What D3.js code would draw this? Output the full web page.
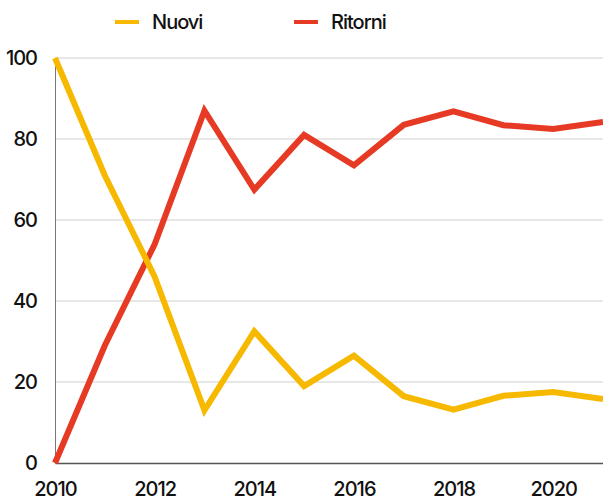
<!DOCTYPE html>
<html>
<head>
<meta charset="utf-8">
<script src="https://cdn.jsdelivr.net/npm/d3@7"></script>
<style>
  body { margin: 0; background: #fff; }
  svg text { font-family: Inter, "Liberation Sans", sans-serif; fill: #111; font-weight: 500; }
</style>
</head>
<body>
<div id="chart"></div>
<script>
const years = [2010, 2011, 2012, 2013, 2014, 2015, 2016, 2017, 2018, 2019, 2020, 2021];
const nuovi = [100, 71, 46, 13, 32.5, 19, 26.5, 16.5, 13.2, 16.6, 17.5, 15.8];
const ritorni = [0, 29, 54, 87, 67.5, 81, 73.5, 83.5, 86.8, 83.4, 82.5, 84.2];
const yTicks = [0, 20, 40, 60, 80, 100];
const xTicks = [2010, 2012, 2014, 2016, 2018, 2020];

const series = [
    { name: 'Ritorni', values: ritorni, color: '#e63a24' },
    { name: 'Nuovi', values: nuovi, color: '#f6b900' }
];

const width = 603, height = 503;
const margin = { top: 58, right: 0, bottom: 40, left: 55 };

const svg = d3.select('#chart').append('svg')
    .attr('width', width)
    .attr('height', height);

const x = d3.scaleLinear()
    .domain([2010, 2021])
    .range([margin.left, width - margin.right]);

const y = d3.scaleLinear()
    .domain([0, 100])
    .range([463, margin.top]);

// gridlines
svg.append('g')
    .selectAll('line')
    .data(yTicks.filter(d => d > 0))
    .join('line')
    .attr('x1', margin.left)
    .attr('x2', width)
    .attr('y1', d => y(d))
    .attr('y2', d => y(d))
    .attr('stroke', '#d0d0d0')
    .attr('stroke-width', 1);

// y axis
const yAxis = svg.append('g')
    .attr('transform', `translate(${margin.left},0)`)
    .call(d3.axisLeft(y).tickValues(yTicks).tickSize(0).tickPadding(18));
yAxis.select('.domain').attr('stroke', '#777');
yAxis.selectAll('text')
    .attr('font-size', 20)
    .attr('letter-spacing', '-1')
    .attr('fill', '#111');

// x axis
const xAxis = svg.append('g')
    .attr('transform', `translate(0,${y(0)})`)
    .call(d3.axisBottom(x).tickValues(xTicks).tickFormat(d3.format('d')).tickSize(0).tickPadding(19));
xAxis.select('.domain').attr('stroke', '#555').attr('stroke-width', 1.5);
xAxis.selectAll('text')
    .attr('font-size', 20)
    .attr('letter-spacing', '-1')
    .attr('fill', '#111');

// lines
const line = d3.line()
    .x((d, i) => x(years[i]))
    .y(d => y(d));

svg.append('g')
    .selectAll('path')
    .data(series)
    .join('path')
    .attr('d', d => line(d.values))
    .attr('fill', 'none')
    .attr('stroke', d => d.color)
    .attr('stroke-width', 6)
    .attr('stroke-linejoin', 'miter');

// legend
const legend = [
    { name: 'Nuovi', color: '#f6b900', x: 115 },
    { name: 'Ritorni', color: '#e63a24', x: 294 }
];
const lg = svg.append('g')
    .selectAll('g')
    .data(legend)
    .join('g')
    .attr('transform', d => `translate(${d.x},22)`);
lg.append('line')
    .attr('x1', 0).attr('x2', 24)
    .attr('stroke', d => d.color)
    .attr('stroke-width', 4);
lg.append('text')
    .attr('x', 37)
    .attr('y', 0)
    .attr('dy', '0.35em')
    .attr('font-size', 20)
    .attr('letter-spacing', '-1')
    .text(d => d.name);
</script>
</body>
</html>
